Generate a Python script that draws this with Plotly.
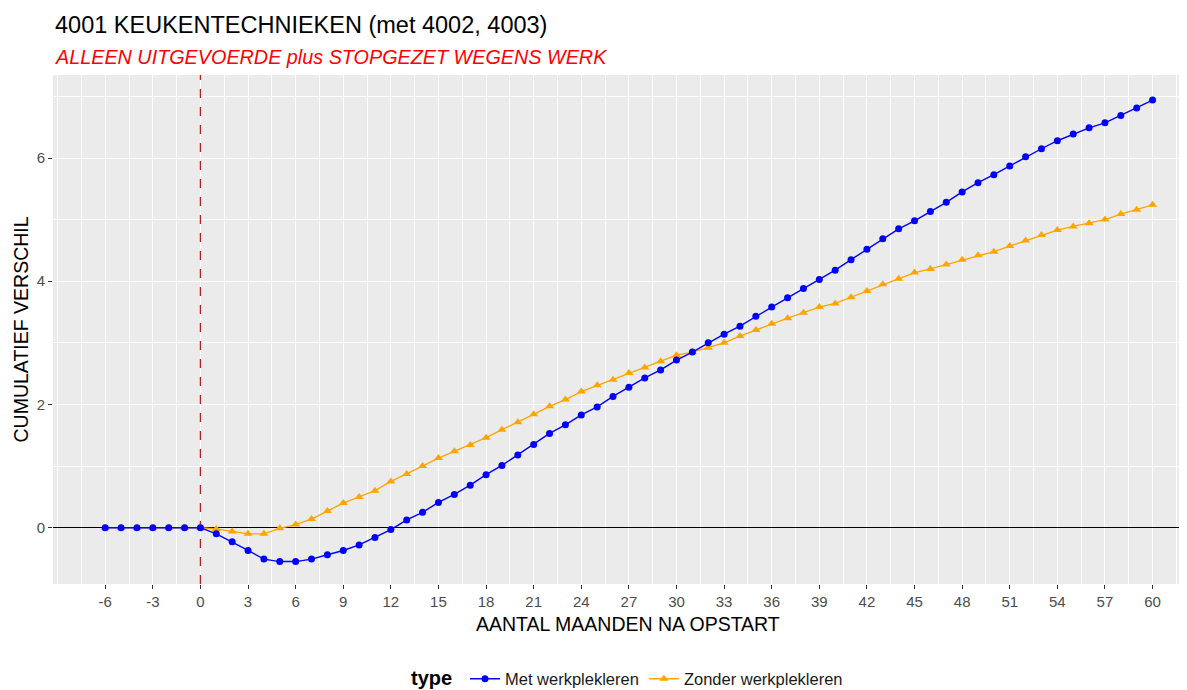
import plotly.graph_objects as go

months = list(range(-6, 61))

met_werkplekleren = [0, 0, 0, 0, 0, 0, 0,
    -0.10, -0.23, -0.37, -0.51, -0.55, -0.55, -0.51, -0.44, -0.37, -0.28,
    -0.16, -0.03, 0.125, 0.25, 0.41, 0.54, 0.69, 0.86, 1.01, 1.18,
    1.35, 1.53, 1.67, 1.83, 1.96, 2.13, 2.28, 2.43, 2.56, 2.72,
    2.85, 3.00, 3.14, 3.27, 3.43, 3.58, 3.73, 3.88, 4.03, 4.18,
    4.35, 4.52, 4.69, 4.85, 4.98, 5.13, 5.28, 5.45, 5.60, 5.73,
    5.87, 6.02, 6.15, 6.28, 6.39, 6.49, 6.57, 6.69, 6.81, 6.94]

zonder_werkplekleren = [0, 0, 0, 0, 0, 0, 0,
    -0.02, -0.06, -0.10, -0.10, -0.01, 0.05, 0.14, 0.27, 0.40, 0.50,
    0.60, 0.75, 0.87, 1.00, 1.13, 1.24, 1.34, 1.46, 1.59, 1.71,
    1.84, 1.97, 2.08, 2.21, 2.31, 2.40, 2.51, 2.60, 2.70, 2.80,
    2.85, 2.92, 3.00, 3.11, 3.21, 3.31, 3.40, 3.49, 3.58, 3.64,
    3.74, 3.84, 3.95, 4.04, 4.14, 4.20, 4.27, 4.35, 4.42, 4.48,
    4.57, 4.66, 4.75, 4.83, 4.89, 4.94, 5.00, 5.09, 5.16, 5.24]

x_ticks = list(range(-6, 61, 3))
y_ticks = [0, 2, 4, 6]
start_month = 0  # vertical reference line (start)

title_text = "4001 KEUKENTECHNIEKEN (met 4002, 4003)"
subtitle_text = "ALLEEN UITGEVOERDE plus STOPGEZET WEGENS WERK"
x_title = "AANTAL MAANDEN NA OPSTART"
y_title = "CUMULATIEF VERSCHIL"
legend_title = "type"

FONT = "Liberation Sans, Arial, sans-serif"
X_RANGE = [-9.29, 62.17]
Y_RANGE = [-0.914, 7.347]

fig = go.Figure()
# dashed vertical line at the start month, under the data
fig.add_trace(go.Scatter(
    x=[start_month, start_month], y=Y_RANGE, mode="lines", showlegend=False,
    hoverinfo="skip", line=dict(color="#B22222", width=1.3, dash="dash"),
))
fig.add_trace(go.Scatter(
    x=months, y=zonder_werkplekleren, mode="lines+markers",
    name="Zonder werkplekleren", legendrank=2,
    line=dict(color="#FFA500", width=1.4),
    marker=dict(symbol="triangle-up", size=8, color="#FFA500"),
))
fig.add_trace(go.Scatter(
    x=months, y=met_werkplekleren, mode="lines+markers",
    name="Met werkplekleren", legendrank=1,
    line=dict(color="#0000FF", width=1.4),
    marker=dict(symbol="circle", size=7, color="#0000FF"),
))

# the page body has an 8px default margin: the figure starts at (8, 8)
OFF = 8
W, H = 1187 - OFF, 690 - OFF
L, R, T, B = 53 - OFF, 0, 75 - OFF, 106
pw = W - L - R
ph = H - T - B


def px(xp):
    return (xp - OFF - L) / pw


def py(yp):
    return (T + ph - (yp - OFF)) / ph


fig.update_layout(
    width=W, height=H,
    margin=dict(l=L, r=R, t=T, b=B, autoexpand=False),
    paper_bgcolor="white",
    plot_bgcolor="#EBEBEB",
    font=dict(family=FONT, color="#4D4D4D"),
    showlegend=True,
    legend=dict(
        orientation="h", x=px(465), xanchor="left", y=py(679), yanchor="middle",
        font=dict(size=16.5, color="#1a1a1a", family=FONT),
        bgcolor="rgba(0,0,0,0)",
    ),
    xaxis=dict(
        range=X_RANGE, tickmode="array", tickvals=x_ticks,
        ticktext=[str(v) for v in x_ticks],
        showgrid=True, gridcolor="white", gridwidth=1.4,
        minor=dict(dtick=1.5, tick0=-9, showgrid=True, gridcolor="white", gridwidth=0.7),
        ticks="outside", ticklen=4, tickcolor="#333333", tickwidth=1.1,
        tickfont=dict(size=15, color="#4D4D4D", family=FONT),
        zeroline=False, showline=False,
    ),
    yaxis=dict(
        range=Y_RANGE, tickmode="array", tickvals=y_ticks,
        ticktext=[str(v) for v in y_ticks],
        showgrid=True, gridcolor="white", gridwidth=1.4,
        minor=dict(dtick=1, tick0=0, showgrid=True, gridcolor="white", gridwidth=0.7),
        ticks="outside", ticklen=4, tickcolor="#333333", tickwidth=1.1,
        tickfont=dict(size=15, color="#4D4D4D", family=FONT),
        zeroline=True, zerolinecolor="black", zerolinewidth=1.4, showline=False,
    ),
    annotations=[
        dict(text=title_text, xref="paper", yref="paper", x=0, y=py(25),
             xanchor="left", yanchor="middle", showarrow=False,
             font=dict(size=23.5, color="black", family=FONT)),
        dict(text="<i>" + subtitle_text + "</i>", xref="paper", yref="paper", x=0, y=py(57),
             xanchor="left", yanchor="middle", showarrow=False,
             font=dict(size=19.8, color="#FF0000", family=FONT)),
        dict(text=x_title, xref="paper", yref="paper", x=px(628), y=py(624),
             xanchor="center", yanchor="middle", showarrow=False,
             font=dict(size=19.5, color="black", family=FONT)),
        dict(text=y_title, xref="paper", yref="paper", x=px(20), y=0.5,
             xanchor="center", yanchor="middle", showarrow=False, textangle=-90,
             font=dict(size=19.5, color="black", family=FONT)),
        dict(text="<b>" + legend_title + "</b>", xref="paper", yref="paper",
             x=px(409), y=py(678), xanchor="left", yanchor="middle", showarrow=False,
             font=dict(size=20, color="black", family=FONT)),
    ],
)

fig.write_html("out.html")
